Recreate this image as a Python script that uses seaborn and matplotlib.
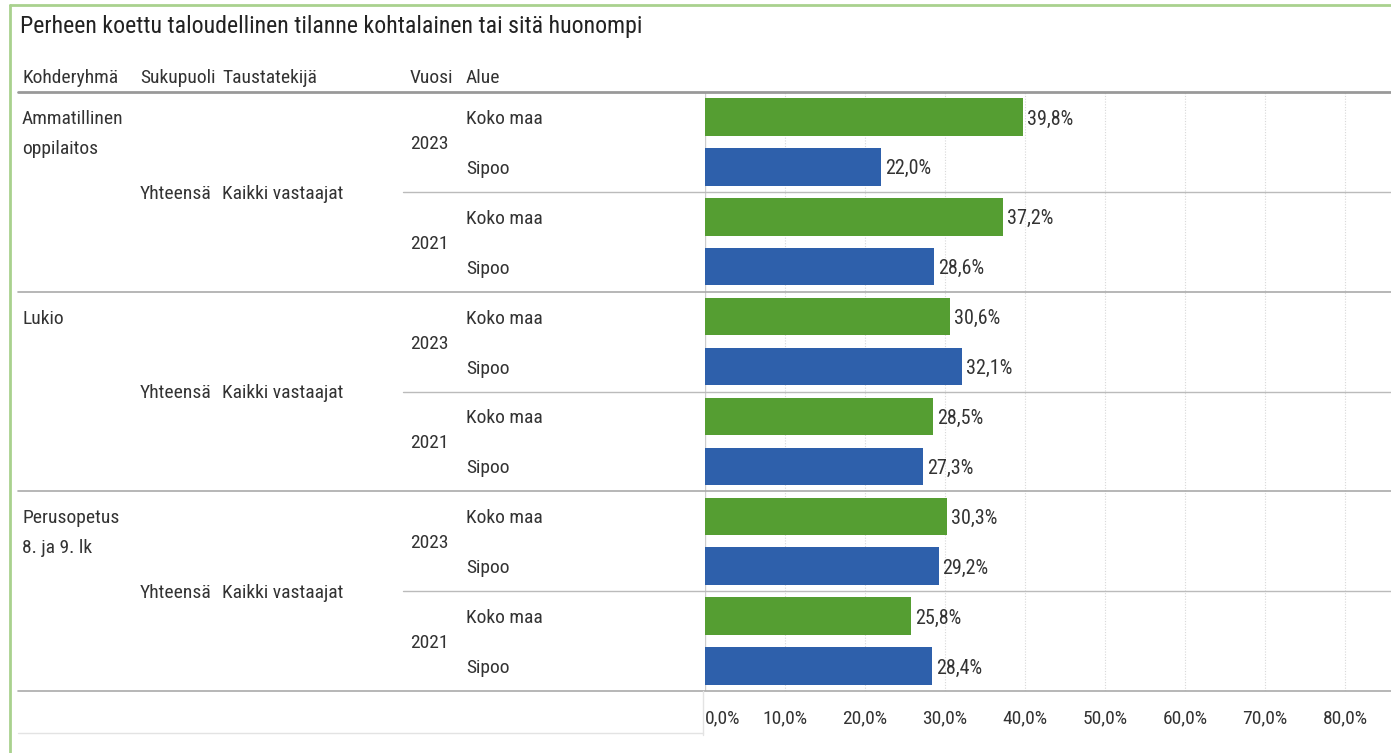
"""
Perheen koettu taloudellinen tilanne - horizontal bar table (Tableau style).
"""

import matplotlib.pyplot as plt
import pandas as pd
import seaborn as sns
from matplotlib.lines import Line2D
from matplotlib.transforms import blended_transform_factory

# Data
groups = [["Ammatillinen", "oppilaitos"], ["Lukio"], ["Perusopetus", "8. ja 9. lk"]]
years = ["2023", "2021"]
areas = ["Koko maa", "Sipoo"]
values = [
    39.8, 22.0, 37.2, 28.6,   # Ammatillinen oppilaitos
    30.6, 32.1, 28.5, 27.3,   # Lukio
    30.3, 29.2, 25.8, 28.4,   # Perusopetus
]
headers = ["Kohderyhmä", "Sukupuoli", "Taustatekijä", "Vuosi", "Alue"]
xticks = [0, 10, 20, 30, 40, 50, 60, 70, 80]

GREEN = "#559E32"
BLUE = "#2E60AB"
TEXT = "#333333"

W, H = 1391, 753
DY = 0.04  # small downward nudge for text baseline, in rows


def fx(px):
    return px / W


def fy(py):
    return 1 - py / H


rows = []
i = 0
for g in groups:
    for y in years:
        for a in areas:
            rows.append({"row": f"{' '.join(g)}|{y}|{a}", "year": y,
                         "area": a, "value": values[i]})
            i += 1
df = pd.DataFrame(rows)

sns.set_style("white")
plt.rcParams["font.family"] = ["Roboto Condensed", "Liberation Sans Narrow",
                               "Lato", "DejaVu Sans"]

fig = plt.figure(figsize=(W / 100, H / 100), dpi=100)
ax = fig.add_axes([fx(705), fy(691), fx(W - 705), (691 - 92) / H])

sns.barplot(data=df, y="row", x="value", hue="area", order=df["row"],
            palette={"Koko maa": GREEN, "Sipoo": BLUE}, dodge=False,
            width=0.75, ax=ax, legend=False, saturation=1, linewidth=0)

ax.set_xlim(0, (W - 705) / 8)
ax.set_ylim(len(df) - 0.5, -0.5)
ax.set_xlabel("")
ax.set_ylabel("")
ax.set_yticks([])
ax.set_xticks(xticks)
ax.set_xticklabels([f"{t:.1f}".replace(".", ",") + "%" for t in xticks])
ax.tick_params(axis="x", length=0, pad=13, labelsize=14, labelcolor=TEXT)
ax.get_xticklabels()[0].set_horizontalalignment("left")
for s in ax.spines.values():
    s.set_visible(False)
for t in xticks[1:]:
    ax.axvline(t, color="#d8d8d8", lw=0.8, ls=(0, (1, 1.5)), zorder=0)
ax.axvline(0, color="#cccccc", lw=1, zorder=0)

# value labels
for j, v in enumerate(df["value"]):
    ax.text(v + 0.5, j + DY, f"{v:.1f}".replace(".", ",") + "%", va="center",
            ha="left", fontsize=14.5, color=TEXT)

# left-hand table text, y in data coords
tr = blended_transform_factory(fig.transFigure, ax.transData)
fs = 14
for k, g in enumerate(groups):
    base = k * 4 + DY
    for li, line in enumerate(g):
        ax.text(fx(22), base + li * 0.6, line, transform=tr, ha="left",
                va="center", fontsize=fs, color=TEXT, clip_on=False)
    ax.text(fx(140), base + 1.5, "Yhteensä", transform=tr, ha="left",
            va="center", fontsize=fs, color=TEXT, clip_on=False)
    ax.text(fx(222), base + 1.5, "Kaikki vastaajat", transform=tr,
            ha="left", va="center", fontsize=fs, color=TEXT, clip_on=False)
    for yi, yr in enumerate(years):
        ax.text(fx(410), base + yi * 2 + 0.5, yr, transform=tr, ha="left",
                va="center", fontsize=fs, color=TEXT, clip_on=False)
        for ai, ar in enumerate(areas):
            ax.text(fx(466), base + yi * 2 + ai, ar, transform=tr,
                    ha="left", va="center", fontsize=fs, color=TEXT,
                    clip_on=False)

# separators
for k in range(len(groups) + 1):
    yv = k * 4 - 0.5
    col, lw = ("#999999", 2) if k == 0 else ("#aaaaaa", 1.2)
    ax.add_line(Line2D([fx(18), 1], [yv, yv], transform=tr, color=col,
                       lw=lw, clip_on=False))
    if k < len(groups):
        ys = k * 4 + 1.5
        ax.add_line(Line2D([fx(403), 1], [ys, ys], transform=tr,
                           color="#bbbbbb", lw=1, clip_on=False))

# faint bottom box of the axis header area
fig.add_artist(Line2D([fx(18), fx(703)], [fy(733), fy(733)], color="#e3e3e3", lw=1))
fig.add_artist(Line2D([fx(703), fx(703)], [fy(691), fy(735)], color="#e3e3e3", lw=1))

# headers and title
for h, px in zip(headers, [22, 140, 222, 410, 466]):
    fig.text(fx(px), fy(78), h, ha="left", va="center", fontsize=fs, color=TEXT)
fig.text(fx(20), fy(26), "Perheen koettu taloudellinen tilanne kohtalainen tai sitä huonompi",
         ha="left", va="center", fontsize=17.2, color="#222222")

# green frame
fig.add_artist(Line2D([fx(10), 1], [fy(5), fy(5)], color="#a9d18e", lw=2))
fig.add_artist(Line2D([fx(10), fx(10)], [fy(5), 0], color="#a9d18e", lw=2))

fig.savefig("out.png", dpi=100)
